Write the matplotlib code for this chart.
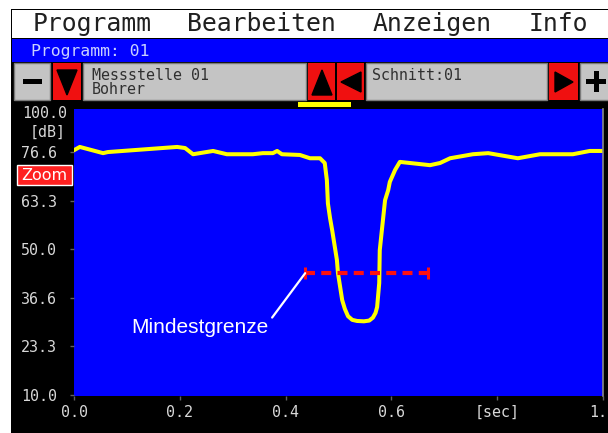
import matplotlib
matplotlib.use("Agg")
import matplotlib.pyplot as plt
from matplotlib.patches import Rectangle, Polygon

# ---- data ----
t_sec = [0.000, 0.011, 0.055, 0.064, 0.195, 0.210, 0.225, 0.263, 0.289, 0.338,
         0.357, 0.376, 0.384, 0.393, 0.427, 0.446, 0.465, 0.474, 0.478, 0.480,
         0.484, 0.488, 0.497, 0.499, 0.507, 0.512, 0.518, 0.526, 0.535, 0.548,
         0.558, 0.565, 0.570, 0.573, 0.577, 0.578, 0.582, 0.588, 0.594, 0.597,
         0.607, 0.616, 0.673, 0.692, 0.711, 0.754, 0.783, 0.839, 0.881, 0.943,
         0.975, 1.000]
level_db = [77.1, 78.0, 76.3, 76.6, 78.0, 77.7, 76.0, 76.9, 76.0, 76.0,
            76.3, 76.3, 76.9, 76.0, 75.8, 74.9, 74.9, 73.6, 68.9, 62.5,
            58.5, 55.2, 47.0, 43.4, 36.0, 33.6, 31.6, 30.6, 30.3, 30.2,
            30.4, 31.2, 32.5, 34.1, 40.7, 49.7, 55.2, 63.4, 66.2, 68.4,
            71.7, 73.9, 73.0, 73.6, 74.9, 76.0, 76.3, 74.9, 76.0, 76.0,
            76.9, 76.9]

limit_start = 0.437
limit_end = 0.669
limit_db = 43.4

y_ticks = [10.0, 23.3, 36.6, 50.0, 63.3, 76.6]
y_ticklabels = ["10.0", "23.3", "36.6", "50.0", "63.3", "76.6"]
x_ticks = [0.0, 0.2, 0.4, 0.6, 0.8, 1.0]
x_ticklabels = ["0.0", "0.2", "0.4", "0.6", "[sec]", "1.0"]

menu_items = ["Programm", "Bearbeiten", "Anzeigen", "Info"]
program_label = "Programm: 01"
station_label = "Messstelle 01"
tool_label = "Bohrer"
cut_label = "Schnitt:01"
annotation_label = "Mindestgrenze"

MONO = "DejaVu Sans Mono"
RED = "#f01010"
GRAY = "#c4c4c4"

fig = plt.figure(figsize=(6.08, 4.33), dpi=100)
fig.patch.set_facecolor("white")

# ---- screen chrome (pixel coordinates) ----
bg = fig.add_axes([0, 0, 1, 1])
bg.set_xlim(0, 608)
bg.set_ylim(433, 0)
bg.axis("off")
bg.set_zorder(0)


def rect(x0, y0, x1, y1, color, ec="none", lw=0):
    bg.add_patch(Rectangle((x0, y0), x1 - x0, y1 - y0, facecolor=color,
                           edgecolor=ec, linewidth=lw))


rect(11, 9, 608, 433, "black")
rect(12, 10, 608, 38, "white")
rect(12, 39, 608, 62, "#0000ff")

menu_x = [33, 187, 373, 529]
for label, x in zip(menu_items, menu_x):
    bg.text(x, 31, label, fontfamily=MONO, fontsize=17.8, color="#202020",
            ha="left", va="baseline")

bg.text(31, 56, program_label, fontfamily=MONO, fontsize=11.8, color="#c8d0ff",
        ha="left", va="baseline")

# button row
rect(14, 63, 50, 100, GRAY, ec="#7a7a7a", lw=1)
rect(53, 63, 81, 100, RED)
rect(83, 63, 306, 100, GRAY, ec="#7a7a7a", lw=1)
rect(308, 63, 335, 100, RED)
rect(337, 63, 364, 100, RED)
rect(366, 63, 547, 100, GRAY, ec="#7a7a7a", lw=1)
rect(549, 63, 578, 100, RED)
rect(580, 63, 609, 100, GRAY, ec="#7a7a7a", lw=1)

rect(23, 79, 42, 84, "black")            # minus
rect(586, 79, 606, 84, "black")          # plus
rect(593.5, 71, 598.5, 92, "black")

bg.add_patch(Polygon([[57, 70], [77, 70], [67, 95]], closed=True, color="black"))
bg.add_patch(Polygon([[312, 95], [332, 95], [322, 70]], closed=True, color="black"))
bg.add_patch(Polygon([[361, 72], [361, 92], [341, 82]], closed=True, color="black"))
bg.add_patch(Polygon([[555, 72], [555, 92], [573, 82]], closed=True, color="black"))

bg.text(92, 79.5, station_label, fontfamily=MONO, fontsize=10.8, color="#303030",
        ha="left", va="baseline")
bg.text(92, 94, tool_label, fontfamily=MONO, fontsize=10.8, color="#303030",
        ha="left", va="baseline")
bg.text(372, 79.5, cut_label, fontfamily=MONO, fontsize=10.8, color="#303030",
        ha="left", va="baseline")

rect(298, 102, 351, 107, "#ffff00")

# axis side labels
bg.text(22, 113, "100.0", fontfamily=MONO, fontsize=10.8, color="#d8d8d8",
        ha="left", va="center")
bg.text(30, 132, "[dB]", fontfamily=MONO, fontsize=10.8, color="#d8d8d8",
        ha="left", va="center")
rect(17, 165, 72, 185, "#ff2020", ec="white", lw=1)
bg.text(44.5, 175.5, "Zoom", fontfamily="DejaVu Sans", fontsize=11.5,
        color="white", ha="center", va="center")

# ---- plot ----
ax = fig.add_axes([74 / 608, (433 - 396) / 433, 529 / 608, 287 / 433])
ax.set_zorder(1)
ax.set_facecolor("#0000ff")
ax.set_xlim(0, 1)
ax.set_ylim(9.73, 88.4)

ax.plot(t_sec, level_db, color="#ffff00", lw=2.9, solid_joinstyle="round",
        solid_capstyle="round")

ax.plot([limit_start, limit_end], [limit_db, limit_db], color="#ff1010",
        lw=3, linestyle=(0, (2.4, 1.5)), solid_capstyle="butt")
ax.vlines([limit_start, limit_end], limit_db - 1.7, limit_db + 1.7,
          color="#ff1010", lw=2.2)

ax.annotate(annotation_label, xy=(limit_start, limit_db), xytext=(0.238, 28.6),
            textcoords="data", color="white", fontsize=15,
            fontfamily="Liberation Sans", ha="center", va="center",
            arrowprops=dict(arrowstyle="-", color="white", lw=1.6,
                            shrinkA=1, shrinkB=0, relpos=(1.0, 0.75)))

for s in ["top", "left", "bottom"]:
    ax.spines[s].set_visible(False)
ax.spines["right"].set_color("#8a8a8a")
ax.spines["right"].set_linewidth(1.2)

ax.set_yticks(y_ticks)
ax.set_yticklabels(y_ticklabels, fontfamily=MONO, fontsize=10.8, ha="left")
ax.set_xticks(x_ticks)
ax.set_xticklabels(x_ticklabels, fontfamily=MONO, fontsize=10.8)
ax.tick_params(axis="y", length=3, width=1, color="#606060",
               labelcolor="#d8d8d8", pad=35.3)
ax.tick_params(axis="x", length=3, width=1, color="#606060",
               labelcolor="#d8d8d8", pad=3.2)

fig.savefig("out.png", dpi=100, facecolor=fig.get_facecolor())
